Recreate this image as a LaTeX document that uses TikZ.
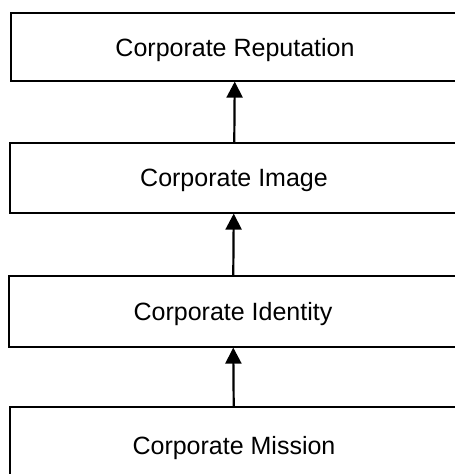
\documentclass[tikz,border=0pt]{standalone}
\usepackage{fontspec}
\setmainfont{Liberation Sans}
\usetikzlibrary{arrows.meta}
\begin{document}
\begin{tikzpicture}[x=1pt,y=1pt,
  level/.style={draw, line width=1.2pt, minimum width=448pt, inner sep=0pt,
    text depth=0pt, font=\fontsize{25}{29}\selectfont},
  up/.style={draw, line width=2.2pt, -{Triangle[width=16pt,length=16pt]}}]
\clip (0,0) rectangle (455,474);
\node[level, minimum height=68pt] (reputation) at (235,427) {Corporate Reputation};
\node[level, minimum height=70pt] (image) at (234,296) {Corporate Image};
\node[level, minimum height=71pt] (identity) at (233,162.5) {Corporate Identity};
\node[level, minimum height=76pt] (mission) at (234,29) {Corporate Mission};

\path[up] (image) -- (reputation);
\path[up] (identity) -- (image);
\path[up] (mission) -- (identity);
\end{tikzpicture}
\end{document}
